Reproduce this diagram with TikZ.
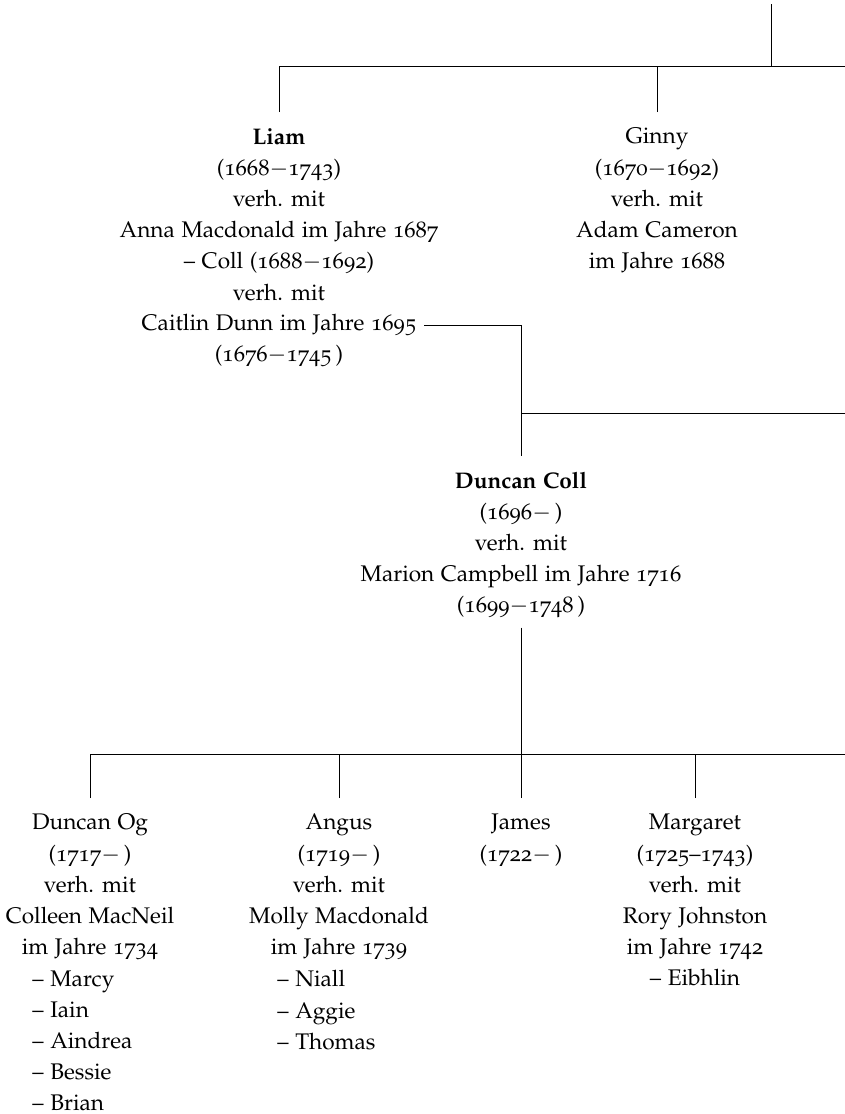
\documentclass[tikz,border=0pt]{standalone}
\usepackage[T1]{fontenc}
\usepackage[osf]{mathpazo}
\usepackage{tikz}
\tikzset{person/.style={align=center, inner xsep=0pt, inner ysep=7pt, anchor=north},
         kids/.style={align=left, inner sep=0pt, anchor=north west},
         single/.style={anchor=base}}
\newcommand{\bis}{$-$}

\begin{document}
\begin{tikzpicture}[x=0.4425pt,y=-0.4425pt,
  every node/.style={font=\fontsize{10pt}{13.8pt}\selectfont}]
\useasboundingbox (0,0) rectangle (845,1114);
\coordinate (topstub) at (771,4);
\coordinate (rowA) at (845,66);
\coordinate (rowB) at (845,413);
\coordinate (rowC) at (845,754);

\node (liam) [person] at (279,112) {\textbf{Liam}\\(1668\bis1743)\\verh. mit\\Anna Macdonald im Jahre 1687\\-- Coll (1688\bis1692)\\verh. mit};
\node (caitlin) [single] at (279,330.6) {Caitlin Dunn im Jahre 1695};
\node (caitlindates) [single] at (279,361.8) {(1676\bis1745\,)};
\node (ginny) [person] at (657,112) {Ginny\\(1670\bis1692)\\verh. mit\\Adam Cameron\\im Jahre 1688};

\node (duncancoll) [person] at (521,456) {\textbf{Duncan Coll}\\(1696\bis\,)\\verh. mit\\Marion Campbell im Jahre 1716\\(1699\bis1748\,)};

\node (duncanog) [person] at (90,798) {Duncan Og\\(1717\bis\,)\\verh. mit\\Colleen MacNeil\\im Jahre 1734};
\node (duncanogkids) [kids] at (32,970) {-- Marcy\\-- Iain\\-- Aindrea\\-- Bessie\\-- Brian};
\node (angus) [person] at (339,798) {Angus\\(1719\bis\,)\\verh. mit\\Molly Macdonald\\im Jahre 1739};
\node (anguskids) [kids] at (277,970) {-- Niall\\-- Aggie\\-- Thomas};
\node (james) [person] at (521,798) {James\\(1722\bis\,)};
\node (margaret) [person] at (695,798) {Margaret\\(1725--1743)\\verh. mit\\Rory Johnston\\im Jahre 1742};
\node (eibhlin) [single] at (695,985.6) {-- Eibhlin};

\draw (topstub) -- (topstub |- rowA);
\draw (liam.north) |- (rowA);
\draw (ginny.north) -- (ginny.north |- rowA);
\draw (caitlin.east) -| (duncancoll.north);
\draw (duncancoll.north |- rowB) -- (rowB);
\draw ([yshift=3pt]duncancoll.south) -- (duncancoll.south |- rowC);
\draw (duncanog.north) |- (rowC);
\draw (angus.north) -- (angus.north |- rowC);
\draw (james.north) -- (james.north |- rowC);
\draw (margaret.north) -- (margaret.north |- rowC);
\end{tikzpicture}
\end{document}
